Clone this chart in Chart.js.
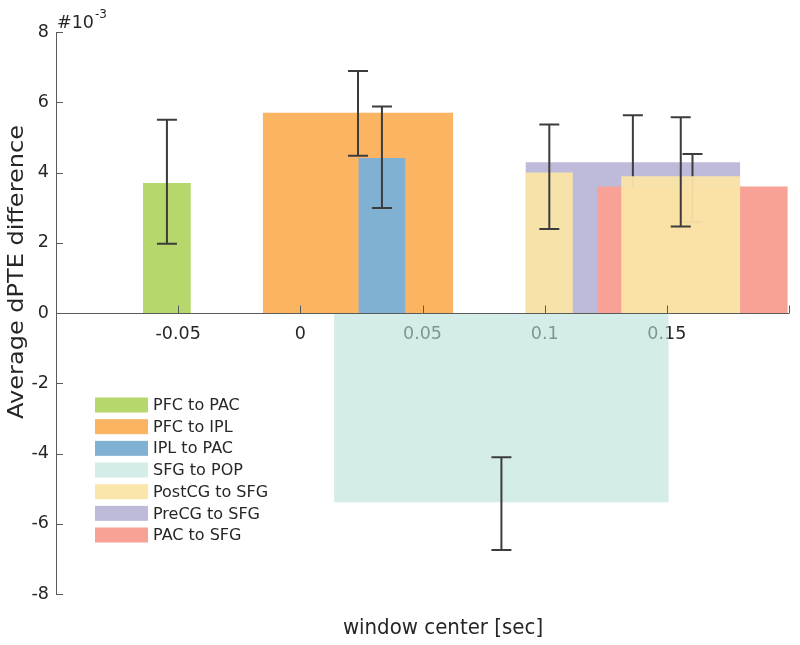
<!DOCTYPE html>
<html>
<head>
<meta charset="utf-8">
<script src="https://cdn.jsdelivr.net/npm/chart.js@4.4.0/dist/chart.umd.min.js"></script>
<style>
  html, body { margin: 0; padding: 0; background: #fff; }
</style>
</head>
<body>
<canvas id="grafico" width="800" height="645"></canvas>
<script>
// series, in legend order
const seriesNames  = ['PFC to PAC', 'PFC to IPL', 'IPL to PAC', 'SFG to POP', 'PostCG to SFG', 'PreCG to SFG', 'PAC to SFG'];
const seriesColors = ['#b5d76b', '#fbb462', '#80b1d3', 'rgba(185,225,218,0.6)', 'rgba(250,229,166,0.95)', '#bebada', '#f7a197'];

// one entry per bar, bottom layer first (values in 1e-3 units)
const barSeries  = [3, 0, 1, 2, 5, 6, 4, 4];
const barCenters = [0.0823, -0.0546, 0.0236, 0.0334, 0.1361, 0.1605, 0.1019, 0.1557];
const barWidths  = [0.137, 0.0196, 0.078, 0.0193, 0.0879, 0.078, 0.0193, 0.0488];
const barValues  = [-5.39, 3.70, 5.70, 4.41, 4.29, 3.60, 4.00, 3.89];
const errLow     = [-6.75, 1.97, 4.48, 2.99, 2.97, 2.59, 2.39, 2.46];
const errHigh    = [-4.11, 5.50, 6.89, 5.88, 5.63, 4.53, 5.37, 5.57];

// axes
const xTickValues = [-0.1, -0.05, 0, 0.05, 0.1, 0.15, 0.2];
const xTickLabels = ['', '-0.05', '0', '0.05', '0.1', '0.15', ''];
const yTickValues = [-8, -6, -4, -2, 0, 2, 4, 6, 8];
const yTickLabels = ['-8', '-6', '-4', '-2', '0', '2', '4', '6', '8'];

const corTexto = '#262626';
const corEixo = '#5a5a5a';
const fonte = 'DejaVu Sans';

Chart.defaults.font.family = fonte;
Chart.defaults.color = corTexto;

// each bar is a closed outline filled down to zero
const datasets = barValues.map((v, i) => {
    const x0 = barCenters[i] - barWidths[i] / 2;
    const x1 = barCenters[i] + barWidths[i] / 2;
    return {
        label: seriesNames[barSeries[i]],
        data: [{ x: x0, y: 0 }, { x: x0, y: v }, { x: x1, y: v }, { x: x1, y: 0 }],
        backgroundColor: seriesColors[barSeries[i]],
        borderWidth: 0,
        pointRadius: 0,
        pointHoverRadius: 0,
        tension: 0,
        fill: 'origin',
        order: barValues.length - i
    };
});

// error bars, drawn right after their own bar so the layering matches
const errorBars = {
    id: 'errorBars',
    afterDatasetDraw(chart, args) {
        const i = args.index;
        const { ctx, scales: { x, y } } = chart;
        const px = x.getPixelForValue(barCenters[i]);
        const yLo = y.getPixelForValue(errLow[i]);
        const yHi = y.getPixelForValue(errHigh[i]);
        ctx.save();
        ctx.strokeStyle = '#3c3c3c';
        ctx.lineWidth = 2;
        ctx.beginPath();
        ctx.moveTo(px, yLo); ctx.lineTo(px, yHi);
        ctx.moveTo(px - 10, yLo); ctx.lineTo(px + 10, yLo);
        ctx.moveTo(px - 10, yHi); ctx.lineTo(px + 10, yHi);
        ctx.stroke();
        ctx.restore();
    }
};

// x axis line at zero, inward tick marks, titles, exponent and legend
const extras = {
    id: 'extras',
    afterDatasetsDraw(chart) {
        const { ctx, scales: { x, y } } = chart;
        const y0 = Math.round(y.getPixelForValue(0)) + 0.5;
        ctx.save();
        ctx.strokeStyle = corEixo;
        ctx.lineWidth = 1;
        ctx.beginPath();
        ctx.moveTo(x.left, y0); ctx.lineTo(x.right, y0);
        xTickValues.forEach(v => {
            const px = Math.round(x.getPixelForValue(v)) + 0.5;
            ctx.moveTo(px, y0); ctx.lineTo(px, y0 - 8);
        });
        yTickValues.forEach(v => {
            const py = Math.round(y.getPixelForValue(v)) + 0.5;
            ctx.moveTo(y.right, py); ctx.lineTo(y.right + 7, py);
        });
        ctx.stroke();
        ctx.restore();
    },
    afterDraw(chart) {
        const { ctx } = chart;
        ctx.save();
        ctx.fillStyle = corTexto;
        ctx.textBaseline = 'alphabetic';
        ctx.font = '17.5px "' + fonte + '"';
        ctx.fillText('#10', 57, 28);
        const w = ctx.measureText('#10').width;
        ctx.font = '12px "' + fonte + '"';
        ctx.fillText('-3', 57 + w + 1, 18);

        // axis titles
        ctx.textAlign = 'center';
        ctx.textBaseline = 'middle';
        ctx.save();
        ctx.translate(443, 628);
        ctx.scale(0.9, 1);
        ctx.font = '22px "' + fonte + '"';
        ctx.fillText('window center [sec]', 0, 0);
        ctx.restore();

        ctx.save();
        ctx.translate(18, 272);
        ctx.rotate(-Math.PI / 2);
        ctx.scale(1, 0.85);
        ctx.font = '24px "' + fonte + '"';
        ctx.fillText('Average dPTE difference', 0, 0);
        ctx.restore();

        // legend
        ctx.textAlign = 'left';
        ctx.font = '16px "' + fonte + '"';
        seriesNames.forEach((nome, i) => {
            const cy = 405 + i * 21.67;
            ctx.fillStyle = seriesColors[i];
            ctx.fillRect(95, cy - 7.5, 53, 15);
            ctx.fillStyle = corTexto;
            ctx.fillText(nome, 153, cy + 1);
        });
        ctx.restore();
    }
};

new Chart(document.getElementById('grafico'), {
    type: 'line',
    data: { datasets },
    options: {
        responsive: false,
        animation: false,
        events: [],
        layout: { padding: { left: 0, right: 9, top: 32, bottom: 51 } },
        scales: {
            x: {
                type: 'linear',
                min: -0.1,
                max: 0.2,
                position: { y: 0 },
                afterBuildTicks: s => { s.ticks = xTickValues.map(v => ({ value: v })); },
                afterFit: s => { s.height = 0; },
                grid: { display: false, drawTicks: false },
                border: { display: false },
                ticks: {
                    color: corTexto,
                    font: { size: 17.5 },
                    padding: 11,
                    maxRotation: 0,
                    autoSkip: false,
                    callback: (v, i) => xTickLabels[i]
                }
            },
            y: {
                type: 'linear',
                min: -8,
                max: 8,
                afterBuildTicks: s => { s.ticks = yTickValues.map(v => ({ value: v })); },
                afterFit: s => { s.width = 56; },
                grid: { display: false, drawTicks: false },
                border: { display: true, color: corEixo, width: 1 },
                ticks: {
                    color: corTexto,
                    font: { size: 17.5 },
                    padding: 7,
                    callback: (v, i) => yTickLabels[i]
                }
            }
        },
        plugins: {
            legend: { display: false },
            tooltip: { enabled: false }
        }
    },
    plugins: [errorBars, extras]
});
</script>
</body>
</html>
